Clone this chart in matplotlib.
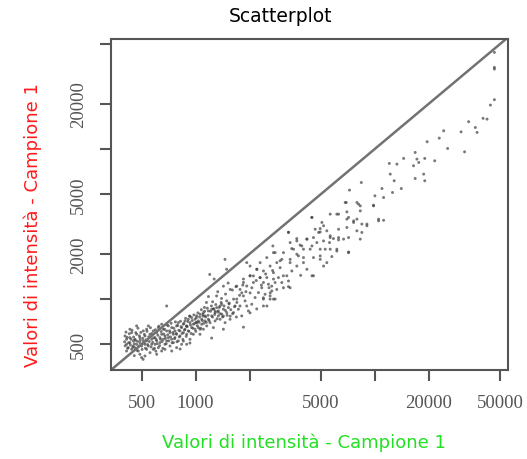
import matplotlib
matplotlib.use('Agg')
import matplotlib.pyplot as plt
import numpy as np

# intensity values read off the scanned scatterplot (campione 1 vs campione 1)
# sparse upper part
x_high = [46500, 46500, 46500, 46500, 44170, 42300, 40200, 37210, 36400, 33400,
          30300, 31700, 25500, 24230, 22900, 19600, 21600, 19000, 17190, 17600,
          16800, 16450, 16800, 19000, 18740, 14490, 13290, 12050, 12200, 12830,
          14060, 12560, 10970, 11200, 10020, 9840, 8410, 7230, 6930, 7950,
          8300, 6990, 7140, 7950, 7620, 9040, 10500, 11200, 8300, 7140,
          6140, 6280, 5880, 6280, 5640, 5180, 4960, 4460, 4960, 5590,
          6140, 5290, 5760, 5180, 4960, 4460, 4180, 3300, 3670, 3830,
          3440, 4000, 3750, 4000, 4460, 3860, 3370, 3030, 2780, 2700,
          2840, 3300, 3090, 2660, 2610, 2390, 2780, 2500, 2290, 2200,
          1930, 2015, 1850, 1810, 1700, 1850, 1460, 1490, 1200, 1270,
          1430, 1310, 1370, 1150, 1560, 1630, 1770, 2015, 1560, 1430,
          1430, 1260, 1100, 1010, 930, 890, 1060, 855, 930, 820,
          1230, 690]
y_high = [44000, 34950, 34070, 21300, 19600, 15810, 16000, 12890, 13900, 15200,
          13000, 9570, 10080, 13220, 11810, 11170, 8340, 8650, 8560, 8130,
          9480, 7730, 6360, 6140, 6800, 8650, 7930, 8010, 6800, 6140,
          5450, 5130, 5450, 4750, 4875, 4220, 5980, 5320, 4400, 4400,
          4180, 3810, 3500, 3410, 3240, 3080, 3320, 3350, 2510, 2060,
          3680, 2920, 2530, 2480, 2570, 3080, 2950, 3500, 2800, 2380,
          2090, 2150, 1920, 1660, 1940, 2260, 2510, 2790, 2530, 2290,
          2170, 2150, 1940, 1750, 1430, 1440, 1750, 1840, 2040, 2260,
          1750, 1210, 1430, 1220, 1100, 1020, 1000, 900, 1390, 1580,
          1750, 1430, 1290, 1100, 950, 650, 1840, 1580, 1460, 1360,
          1220, 1050, 900, 950, 1160, 1000, 900, 810, 770, 630,
          770, 860, 770, 700, 770, 660, 630, 525, 510, 465,
          550, 900]

# middle band
x_band = [6840, 8120, 9840, 8300, 5640, 6280, 4455, 6990, 7620, 8470,
          9040, 10500, 5070, 5400, 4860, 4650, 6990, 7946, 8470, 5640,
          6280, 6695, 7140, 4550, 4180, 3673, 3371, 3300, 4750, 5176,
          3915, 3520, 4360, 4960, 5640, 6144, 7140, 3094, 2721, 3673,
          4002, 4550, 4960, 5400, 3371, 2964, 2497, 2292, 2606, 2964,
          3673, 4180, 4550, 3446, 3230, 2721, 2392, 2195, 2015, 2015,
          1849, 1697, 2103, 2392, 2721, 3094, 3371, 3300, 2839, 2606,
          2392, 2015, 1849, 1697, 1662, 1930, 2195, 2392, 2606, 2721,
          1627, 1734, 1810, 1889, 1972, 2058, 2149, 2243, 2341, 2443,
          2551, 2663, 2779, 2900, 3028, 1771, 1930, 2103, 2292, 2497,
          1180, 1245, 1330, 1395, 1470, 1540, 1605, 1680, 1760, 1835,
          1910, 2060, 2180, 2330, 2460, 2570, 2690, 1120, 1290, 1520]
y_band = [4400, 4290, 4180, 3870, 3680, 3680, 3500, 3410, 3320, 3160,
          3160, 3410, 3240, 2850, 2780, 2920, 3000, 2850, 2780, 2640,
          2570, 2510, 2570, 2570, 2510, 2440, 2380, 2780, 2380, 2440,
          2260, 2150, 2150, 2150, 2150, 2150, 2040, 2040, 2040, 1990,
          1890, 1890, 1840, 1750, 1840, 1800, 1890, 1750, 1660, 1620,
          1660, 1580, 1430, 1540, 1430, 1500, 1540, 1580, 1660, 1430,
          1360, 1220, 1290, 1290, 1360, 1190, 1190, 1320, 1160, 1050,
          1000, 1100, 1050, 1000, 900, 900, 860, 900, 1000, 1000,
          813, 856, 773, 973, 834, 924, 1024, 1105, 1190, 1077,
          1256, 1134, 1289, 1391, 1289, 1160, 1222, 1427, 1391, 1391,
          1040, 960, 1120, 1010, 1080, 940, 1150, 1210, 1060, 1240,
          1120, 1190, 1330, 1240, 1470, 1190, 1550, 880, 830, 1280]

# dense cluster at low intensity
x_low = [404, 412, 412, 421, 430, 430, 440, 449, 412, 449, 430, 440,
         459, 459, 469, 469, 479, 489, 489, 489, 500, 511, 469, 511, 500,
         522, 522, 533, 533, 533, 545, 557, 557, 569, 569, 581, 581, 545, 522,
         594, 594, 607, 607, 620, 620, 633, 633, 647, 647, 661, 661, 607, 647,
         675, 675, 690, 690, 705, 705, 720, 720, 736, 736, 752, 752, 675, 736,
         768, 768, 784, 784, 801, 801, 819, 819, 836, 836, 855, 855, 784,
         873, 873, 892, 892, 911, 911, 931, 931, 951, 951, 972, 972, 892,
         993, 993, 1014, 1014, 1036, 1036, 1059, 1059, 1082, 1082, 1105, 1105,
         1129, 1129, 1154, 1179, 1179, 1204, 1231, 1231, 1258, 1285, 1285, 1312,
         1341, 1341, 1370, 1400, 1400, 1430, 1461, 1493, 1493, 1525, 1558]
y_low = [568, 500, 540, 475, 513, 554, 463, 487, 451, 527, 630, 598,
         475, 540, 500, 583, 451, 513, 554, 429, 487, 614, 663, 527, 408,
         500, 568, 463, 630, 527, 487, 583, 440, 540, 500, 614, 463, 663, 418,
         554, 500, 598, 527, 475, 646, 554, 513, 451, 583, 540, 630, 429, 680,
         500, 568, 614, 527, 663, 554, 487, 598, 540, 646, 583, 513, 463, 451,
         614, 554, 663, 583, 527, 697, 614, 568, 646, 500, 598, 680, 475,
         630, 716, 583, 663, 734, 614, 540, 697, 646, 753, 583, 680, 500,
         734, 630, 697, 773, 646, 716, 583, 793, 680, 734, 630, 813,
         716, 773, 663, 834, 734, 697, 856, 773, 646, 813, 716, 878,
         773, 834, 734, 924, 793, 856, 697, 973, 813, 878, 734]

# second pass over the same cluster, the points in between
x_low2 = [402, 405, 409, 415, 418, 423, 427, 433, 436, 442, 446, 451, 455,
          461, 464, 471, 474, 477, 482, 486, 491, 495, 503, 507, 514, 518,
          525, 529, 536, 540, 548, 552, 560, 565, 571, 577, 584, 590, 597,
          603, 611, 616, 624, 630, 638, 643, 651, 657, 665, 671, 679, 686,
          694, 700, 709, 716, 725, 731, 740, 747, 756, 763, 772, 779, 788,
          795, 806, 812, 824, 830, 842, 849, 861, 868, 880, 887, 898, 905,
          918, 926, 937, 945, 958, 966, 979, 988, 1003, 1010, 1022, 1031,
          1046, 1053, 1068, 1077, 1090, 1098, 1112, 1124, 1139, 1148, 1163,
          1175, 1190, 1212, 1226, 1243, 1265, 1279, 1297, 1318, 1333, 1356,
          1372, 1389, 1415, 1442, 1468, 1500, 1536, 1572, 1610, 1650, 1690,
          510, 455, 600]
y_low2 = [520, 489, 603, 556, 470, 512, 588, 495, 541, 620, 478, 559, 505,
          532, 598, 456, 523, 640, 487, 570, 533, 600, 462, 548, 509, 582,
          471, 535, 610, 498, 561, 522, 645, 480, 590, 515, 552, 470, 625,
          538, 505, 575, 660, 490, 540, 608, 522, 470, 585, 630, 548, 505,
          672, 578, 527, 615, 560, 690, 512, 600, 640, 545, 705, 590, 520,
          668, 620, 560, 712, 655, 590, 540, 690, 622, 745, 565, 655, 710,
          610, 770, 672, 590, 720, 640, 785, 690, 610, 752, 665, 810,
          700, 760, 640, 850, 720, 790, 690, 830, 760, 700, 870,
          780, 720, 830, 900, 760, 860, 790, 920, 740, 820, 880,
          800, 950, 760, 900, 840, 780, 930, 850, 800, 890, 760,
          397, 420, 450]

x_ticks = [500, 1000, 2000, 5000, 10000, 20000, 50000]
x_tick_labels = ['500', '1000', '', '5000', '', '20000', '50000']
y_ticks = [500, 1000, 2000, 5000, 10000, 20000, 50000]
y_tick_labels = ['500', '', '2000', '5000', '', '20000', '']

fig = plt.figure(figsize=(5.27, 4.60), dpi=100)
ax = fig.add_axes([0.210, 0.193, 0.754, 0.720])

dot = dict(s=4.5, color='#404040', alpha=0.7, edgecolors='none')
ax.scatter(x_low, y_low, **dot)
ax.scatter(x_low2, y_low2, **dot)
ax.scatter(x_band, y_band, **dot)
ax.scatter(x_high, y_high, **dot)

ax.set_xscale('log')
ax.set_yscale('log')
ax.set_xlim(336, 55400)
ax.set_ylim(336, 54000)

ax.axline((500, 500), (50000, 50000), color='#727272', linewidth=1.8)

ax.minorticks_off()
ax.set_xticks(x_ticks)
ax.set_xticklabels(x_tick_labels)
ax.set_yticks(y_ticks)
ax.set_yticklabels(y_tick_labels)
for lab in ax.get_yticklabels():
    lab.set_rotation(90)
    lab.set_va('center')

for side in ax.spines.values():
    side.set_color('#555555')
    side.set_linewidth(1.5)
ax.tick_params(direction='out', length=8, width=1.5, color='#555555',
               labelcolor='#555555', labelsize=13.5, pad=9)
for lab in ax.get_xticklabels() + ax.get_yticklabels():
    lab.set_family('Liberation Serif')

fig.text(0.532, 0.965, 'Scatterplot', ha='center', va='center',
         fontsize=13.5, color='black')
fig.text(0.577, 0.037, 'Valori di intensità - Campione 1', ha='center',
         va='center', fontsize=13, color='#22e022')
fig.text(0.063, 0.51, 'Valori di intensità - Campione 1', ha='center',
         va='center', rotation=90, fontsize=13, color='#ff1a1a')

plt.savefig('out.png', dpi=100)
